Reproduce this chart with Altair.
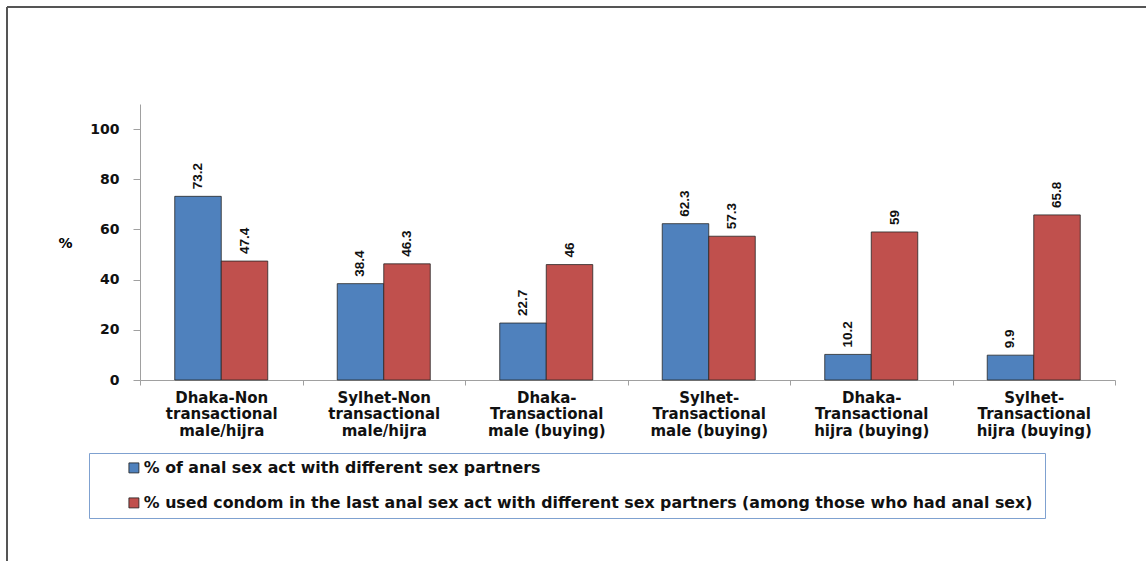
import altair as alt
import pandas as pd

categories = [
    "Dhaka-Non|transactional|male/hijra",
    "Sylhet-Non|transactional|male/hijra",
    "Dhaka-|Transactional|male (buying)",
    "Sylhet-|Transactional|male (buying)",
    "Dhaka-|Transactional|hijra (buying)",
    "Sylhet-|Transactional|hijra (buying)",
]
series = [
    "% of anal sex act with different sex partners",
    "% used condom in the last anal sex act with different sex  partners (among those who had anal sex)",
]
anal_sex_pct = [73.2, 38.4, 22.7, 62.3, 10.2, 9.9]
condom_pct = [47.4, 46.3, 46, 57.3, 59, 65.8]
colors = ["#4F81BD", "#C0504D"]
y_ticks = [0, 20, 40, 60, 80, 100]

rows = []
for c, a, b in zip(categories, anal_sex_pct, condom_pct):
    rows.append({"category": c, "series": series[0], "value": a})
    rows.append({"category": c, "series": series[1], "value": b})
df = pd.DataFrame(rows)

base = alt.Chart(df).encode(
    x=alt.X(
        "category:N",
        sort=categories,
        scale=alt.Scale(paddingInner=0, paddingOuter=0),
        axis=alt.Axis(
            title=None,
            labelAngle=0,
            labelExpr="split(datum.label, '|')",
            labelFont="DejaVu Sans",
            labelFontSize=15,
            labelFontWeight="bold",
            labelColor="#111111",
            labelLineHeight=16.5,
            labelPadding=5,
            tickBand="extent",
            tickSize=5,
            tickColor="#A0A0A0",
            domainColor="#A0A0A0",
            grid=False,
        ),
    ),
    xOffset=alt.XOffset(
        "series:N", sort=series, scale=alt.Scale(paddingInner=0, paddingOuter=0.747)
    ),
    y=alt.Y(
        "value:Q",
        scale=alt.Scale(domain=[0, 110], nice=False),
        axis=alt.Axis(
            values=y_ticks,
            title="%",
            titleAngle=0,
            titleX=-75,
            titleY=139,
            titleAlign="center",
            titleBaseline="middle",
            titleFont="DejaVu Sans",
            titleFontSize=14,
            titleFontWeight="bold",
            labelFont="DejaVu Sans",
            labelFontSize=14,
            labelFontWeight="bold",
            labelColor="#111111",
            labelPadding=14,
            tickSize=7,
            tickColor="#A0A0A0",
            domainColor="#A0A0A0",
            grid=False,
        ),
    ),
)

bars = base.mark_bar(stroke="#262626", strokeWidth=0.8).encode(
    color=alt.Color(
        "series:N",
        sort=series,
        scale=alt.Scale(domain=series, range=colors),
        legend=alt.Legend(
            title=None,
            orient="none",
            legendX=-51,
            legendY=349,
            direction="vertical",
            strokeColor="#7FA1D0",
            padding=7,
            symbolType="square",
            symbolSize=100,
            symbolStrokeColor="#1f1f1f",
            symbolStrokeWidth=0.8,
            symbolOffset=30,
            labelOffset=2,
            labelFont="DejaVu Sans",
            labelFontSize=15.8,
            labelFontWeight="bold",
            labelColor="#111111",
            labelLimit=0,
            rowPadding=18,
        ),
    )
)

labels = base.mark_text(
    angle=270,
    align="left",
    baseline="middle",
    dx=7,
    font="Liberation Sans",
    fontSize=13.5,
    fontWeight="bold",
    color="#111111",
).encode(text=alt.Text("value:Q", format=".1~f"))

frame_df = pd.DataFrame({"k": [0]})
frame_top = alt.Chart(frame_df).mark_rule(color="#555555", strokeWidth=2).encode(
    x=alt.value(-133), x2=alt.value(1006), y=alt.value(-97)
)
frame_left = alt.Chart(frame_df).mark_rule(color="#555555", strokeWidth=2).encode(
    x=alt.value(-133), y=alt.value(-97), y2=alt.value(457)
)

chart = (
    alt.layer(bars, labels, frame_top, frame_left)
    .properties(
        width=975,
        height=276,
        autosize=alt.AutoSizeParams(type="none"),
        padding={"left": 140, "top": 104, "right": 31, "bottom": 181},
        background="white",
    )
    .configure_view(stroke=None)
)

chart.save("out.html", embed_options={"renderer": "svg", "actions": False})
